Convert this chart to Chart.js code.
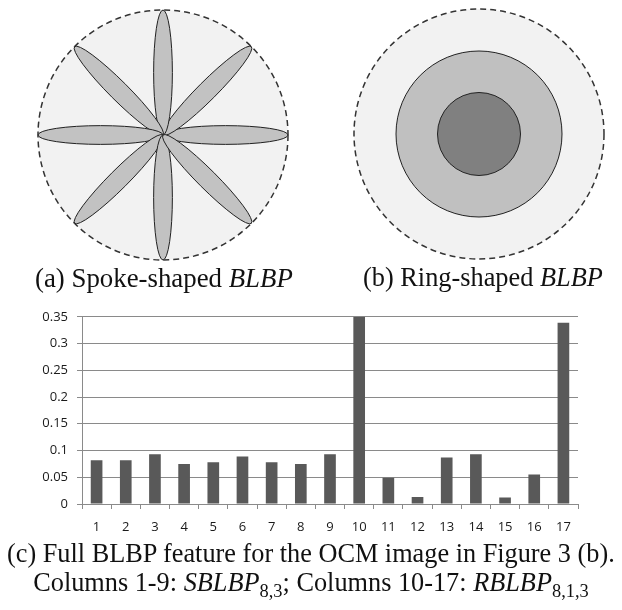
<!DOCTYPE html>
<html>
<head>
<meta charset="utf-8">
<script src="https://cdn.jsdelivr.net/npm/chart.js@4.4.0/dist/chart.umd.min.js"></script>
<style>
body { margin: 0; background: #fff; width: 622px; height: 610px; position: relative; overflow: hidden; }
canvas { position: absolute; }
.cap { position: absolute; font-family: "Liberation Serif", serif; white-space: nowrap; color: #111; line-height: 1; font-size: 20px; }
.cap sub { font-size: 70%; line-height: 0; vertical-align: -0.3em; }
</style>
</head>
<body>
<canvas id="spoke" width="326" height="270" style="left:0;top:0"></canvas>
<canvas id="ring" width="286" height="268" style="left:336px;top:0"></canvas>
<canvas id="barchart" width="622" height="240" style="left:0;top:300px"></canvas>

<div class="cap" id="capA">(a) Spoke-shaped <i>BLBP</i></div>
<div class="cap" id="capB">(b) Ring-shaped <i>BLBP</i></div>
<div class="cap" id="capC1">(c) Full BLBP feature for the OCM image in Figure 3 (b).</div>
<div class="cap" id="capC2">Columns 1-9: <i>SBLBP</i><sub>8,3</sub>; Columns 10-17: <i>RBLBP</i><sub>8,1,3</sub></div>

<script>
// bar chart data
const columns = ['1','2','3','4','5','6','7','8','9','10','11','12','13','14','15','16','17'];
const blbpValues = [0.082, 0.082, 0.093, 0.075, 0.078, 0.089, 0.078, 0.075, 0.093, 0.35, 0.049, 0.013, 0.087, 0.093, 0.012, 0.055, 0.339];
const yTicks = [0, 0.05, 0.1, 0.15, 0.2, 0.25, 0.3, 0.35];
const yTickLabels = ['0', '0.05', '0.1', '0.15', '0.2', '0.25', '0.3', '0.35'];

// diagram data (unit radius = sampling circle)
const spokeAngles = [0, 45, 90, 135, 180, 225, 270, 315];
const spokeLength = 1;
const spokeWidth = 0.075;
const ringRadii = [1, 0.664, 0.332];
const ringFills = ['#f2f2f2', '#c0c0c0', '#808080'];

const R_PX = 125;

function diagramScales(canvas) {
    let hx = canvas.width / 2 / R_PX
    let hy = canvas.height / 2 / R_PX
    return {
        x: { type: 'linear', min: -hx, max: hx, display: false },
        y: { type: 'linear', min: -hy, max: hy, display: false }
    }
}

function outerCircle(ctx, cx, cy, r, fill) {
    ctx.beginPath();
    ctx.arc(cx, cy, r, 0, 2 * Math.PI);
    ctx.fillStyle = fill;
    ctx.fill();
    ctx.setLineDash([6, 4]);
    ctx.lineWidth = 1.5;
    ctx.strokeStyle = '#333';
    ctx.stroke();
    ctx.setLineDash([]);
}

const spokeDraw = {
    id: 'spokeDraw',
    beforeDatasetsDraw(chart) {
        const {ctx, scales: {x, y}} = chart;
        const cx = x.getPixelForValue(0), cy = y.getPixelForValue(0);
        const r = x.getPixelForValue(1) - cx;
        ctx.save();
        outerCircle(ctx, cx, cy, r, ringFills[0]);
        spokeAngles.forEach(a => {
            const rad = a * Math.PI / 180;
            const ex = x.getPixelForValue(spokeLength / 2 * Math.cos(rad));
            const ey = y.getPixelForValue(spokeLength / 2 * Math.sin(rad));
            ctx.beginPath();
            ctx.ellipse(ex, ey, r * spokeLength / 2, r * spokeWidth, -rad, 0, 2 * Math.PI);
            ctx.fillStyle = '#c2c2c2';
            ctx.fill();
            ctx.lineWidth = 1;
            ctx.strokeStyle = '#222';
            ctx.stroke();
        });
        ctx.restore();
    }
};

const ringDraw = {
    id: 'ringDraw',
    beforeDatasetsDraw(chart) {
        const {ctx, scales: {x, y}} = chart;
        const cx = x.getPixelForValue(0), cy = y.getPixelForValue(0);
        ctx.save();
        ringRadii.forEach((rr, i) => {
            const r = x.getPixelForValue(rr) - cx;
            if (i === 0) {
                outerCircle(ctx, cx, cy, r, ringFills[i]);
            } else {
                ctx.beginPath();
                ctx.arc(cx, cy, r, 0, 2 * Math.PI);
                ctx.fillStyle = ringFills[i];
                ctx.fill();
                ctx.lineWidth = 1;
                ctx.strokeStyle = '#222';
                ctx.stroke();
            }
        });
        ctx.restore();
    }
};

const spokeCanvas = document.getElementById('spoke');
new Chart(spokeCanvas.getContext('2d'), {
    type: 'scatter',
    data: { datasets: [] },
    options: {
        responsive: false, animation: false, devicePixelRatio: 1,
        layout: { padding: 0 },
        plugins: { legend: { display: false }, tooltip: { enabled: false } },
        scales: diagramScales(spokeCanvas)
    },
    plugins: [spokeDraw]
});

const ringCanvas = document.getElementById('ring');
new Chart(ringCanvas.getContext('2d'), {
    type: 'scatter',
    data: { datasets: [] },
    options: {
        responsive: false, animation: false, devicePixelRatio: 1,
        layout: { padding: 0 },
        plugins: { legend: { display: false }, tooltip: { enabled: false } },
        scales: diagramScales(ringCanvas)
    },
    plugins: [ringDraw]
});

const tickFont = { family: '"Open Sans", sans-serif', size: 13 };
const ctx = document.getElementById('barchart').getContext('2d');
const barchart = new Chart(ctx, {
    type: 'bar',
    data: {
        labels: columns,
        datasets: [{
            data: blbpValues,
            backgroundColor: '#595959',
            categoryPercentage: 1,
            barPercentage: 0.4
        }]
    },
    options: {
        responsive: false, animation: false, devicePixelRatio: 1,
        layout: { padding: { top: 14, right: 44, left: 0, bottom: 0 } },
        plugins: { legend: { display: false }, tooltip: { enabled: false } },
        scales: {
            x: {
                grid: { drawOnChartArea: false, offset: true, tickLength: 5, color: '#8a8a8a' },
                border: { color: '#8a8a8a' },
                ticks: { font: tickFont, color: '#1a1a1a', padding: 10, maxRotation: 0 },
                afterFit: s => { s.height = 36 }
            },
            y: {
                min: 0, max: 0.35,
                afterBuildTicks: s => { s.ticks = yTicks.map(v => ({ value: v })) },
                grid: { color: '#8a8a8a', tickLength: 5 },
                border: { color: '#8a8a8a' },
                ticks: { font: tickFont, color: '#1a1a1a', padding: 9, callback: (v, i) => yTickLabels[i] },
                afterFit: s => { s.width = 82 }
            }
        }
    }
});

// captions: fit to measured widths and baselines of the figure
function placeCaption(id, left, width, baseline, size) {
    const el = document.getElementById(id);
    if (size) {
        el.style.fontSize = size + 'px';
    } else {
        const w0 = el.getBoundingClientRect().width;
        size = 20 * width / w0;
        el.style.fontSize = size + 'px';
    }
    const w = el.getBoundingClientRect().width;
    el.style.left = (left === null ? 311 - w / 2 : left) + 'px';
    el.style.top = (baseline - 0.8375 * size) + 'px';
    return size;
}
document.fonts.ready.then(() => {
    placeCaption('capA', 35, 258, 287);
    placeCaption('capB', 363, 240, 287);
    const s = placeCaption('capC1', 7, 608, 563);
    placeCaption('capC2', null, 0, 592, s);
});
</script>
</body>
</html>
